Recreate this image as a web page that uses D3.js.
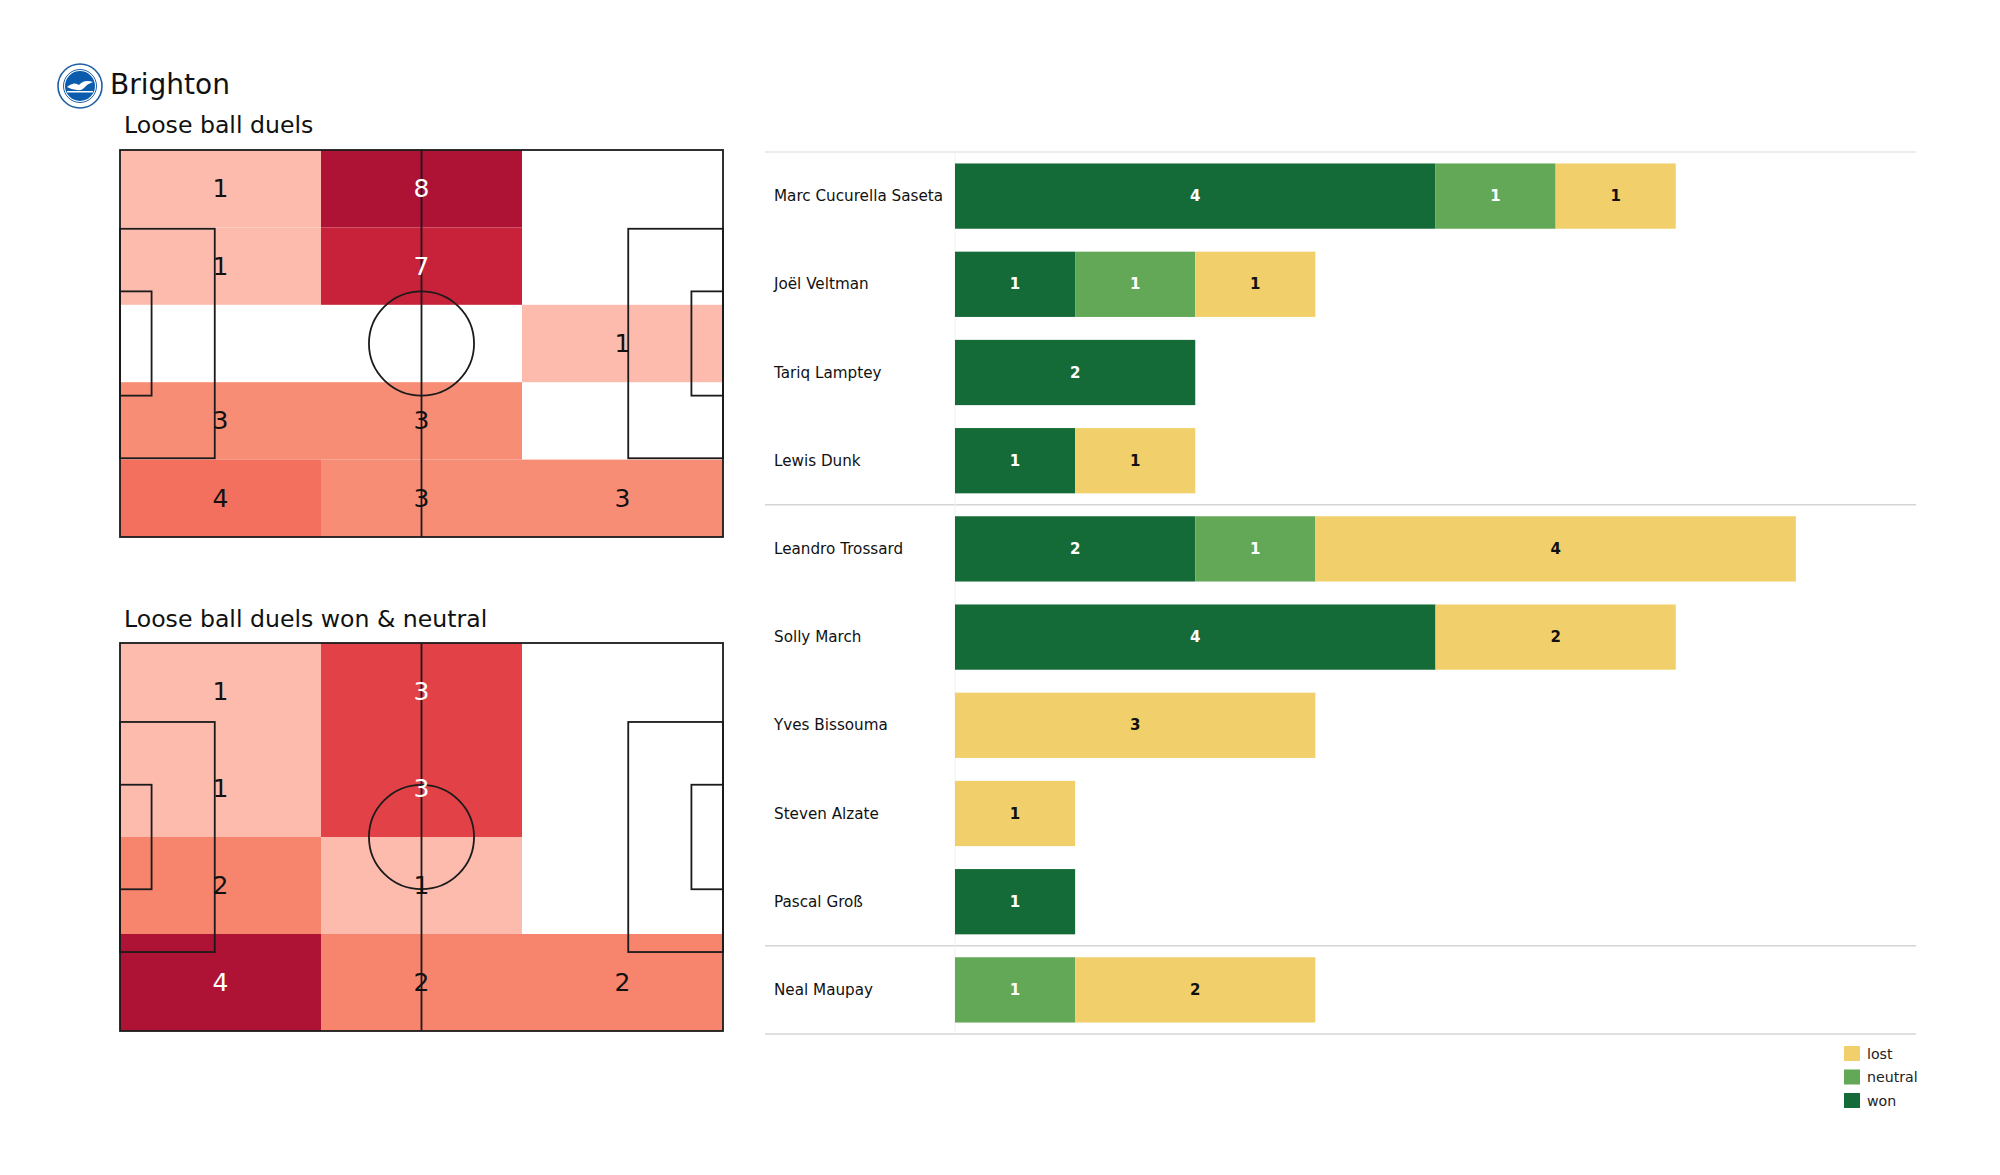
<!DOCTYPE html>
<html>
<head>
<meta charset="utf-8">
<script src="https://cdn.jsdelivr.net/npm/d3@7"></script>
<style>
  html, body { margin: 0; padding: 0; background: #ffffff; }
  svg { display: block; font-family: "DejaVu Sans", sans-serif; }
</style>
</head>
<body>
<svg id="chart" width="2000" height="1175"></svg>
<script>
// ---------------- DATA ----------------
const teamName = "Brighton";
const heatTitle1 = "Loose ball duels";
const heatTitle2 = "Loose ball duels won & neutral";

// heatmap counts, rows top -> bottom, columns left -> right
const duelsGrid = [
  [1, 8, 0],
  [1, 7, 0],
  [0, 0, 1],
  [3, 3, 0],
  [4, 3, 3]
];
const wonNeutralGrid = [
  [1, 3, 0],
  [1, 3, 0],
  [2, 1, 0],
  [4, 2, 2]
];

const players = ["Marc Cucurella Saseta", "Joël Veltman", "Tariq Lamptey", "Lewis Dunk",
  "Leandro Trossard", "Solly March", "Yves Bissouma", "Steven Alzate", "Pascal Groß", "Neal Maupay"];
const positionGroup = ["DF", "DF", "DF", "DF", "MF", "MF", "MF", "MF", "MF", "FW"];
const wonValues     = [4, 1, 2, 1, 2, 4, 0, 0, 1, 0];
const neutralValues = [1, 1, 0, 0, 1, 0, 0, 0, 0, 1];
const lostValues    = [1, 1, 0, 1, 4, 2, 3, 1, 0, 2];
const resultKeys = ["won", "neutral", "lost"];
const legendKeys = ["lost", "neutral", "won"];
const xMax = 8;

// ---------------- STYLE ----------------
const colors = { won: "#156b37", neutral: "#62a856", lost: "#f1d06b" };
const labelColors = { won: "#ffffff", neutral: "#ffffff", lost: "#111111" };
const heatStops = [0, 0.3, 0.45, 0.7, 0.86, 1];
const heatColors = ["#fdbbae", "#f88b73", "#f26b5a", "#e03c44", "#c8203a", "#ae1234"];
const lineColor = "#1b1b1b";

const svg = d3.select("#chart");

// ---------------- HEADER ----------------
const logo = svg.append("g").attr("transform", "translate(80,86)");
logo.append("circle").attr("r", 22).attr("fill", "#ffffff").attr("stroke", "#1f5fa6").attr("stroke-width", 1.6);
logo.append("circle").attr("r", 16.5).attr("fill", "#ffffff").attr("stroke", "#1f5fa6").attr("stroke-width", 1);
logo.append("circle").attr("r", 15).attr("fill", "#0b5cad");
logo.append("path")
  .attr("d", "M-13,1 Q-6,-5 -1,-1 Q4,-7 13,-4 Q7,-2 4,2 Q1,5 -3,4 Q-8,4 -13,1 Z")
  .attr("fill", "#ffffff");
logo.append("rect").attr("x", -13).attr("y", 5).attr("width", 26).attr("height", 1.5).attr("fill", "#ffffff");

svg.append("text").attr("x", 110).attr("y", 94)
  .attr("font-size", 28).attr("fill", "#111").text(teamName);

// ---------------- PITCH HEATMAPS ----------------
const pitchLength = 105, pitchWidth = 68;

function drawPitch(grid, top, bottom, title, titleY) {
  const xs = d3.scaleLinear().domain([0, pitchLength]).range([120, 723]);
  const ys = d3.scaleLinear().domain([0, pitchWidth]).range([top, bottom]);
  const nRows = grid.length, nCols = grid[0].length;
  const colBand = d3.scaleBand().domain(d3.range(nCols)).range([0, pitchLength]);
  const rowBand = d3.scaleBand().domain(d3.range(nRows)).range([0, pitchWidth]);

  const flat = [];
  grid.forEach((row, r) => row.forEach((v, c) => flat.push({ r, c, v })));
  const nonZero = flat.filter(d => d.v > 0).map(d => d.v);
  const vMin = d3.min(nonZero), vMax = d3.max(nonZero);
  const norm = d3.scaleLinear().domain([vMin, vMax]).range([0, 1]);
  const color = d3.scaleLinear().domain(heatStops).range(heatColors).interpolate(d3.interpolateRgb);

  svg.append("text").attr("x", 124).attr("y", titleY)
    .attr("font-size", 23.6).attr("fill", "#111").text(title);

  const g = svg.append("g");
  g.selectAll("rect.cell").data(flat.filter(d => d.v > 0)).join("rect")
    .attr("class", "cell")
    .attr("x", d => xs(colBand(d.c)))
    .attr("y", d => ys(rowBand(d.r)))
    .attr("width", d => xs(colBand(d.c) + colBand.bandwidth()) - xs(colBand(d.c)))
    .attr("height", d => ys(rowBand(d.r) + rowBand.bandwidth()) - ys(rowBand(d.r)))
    .attr("fill", d => color(norm(d.v)));

  // pitch markings
  const lines = g.append("g").attr("fill", "none").attr("stroke", lineColor).attr("stroke-width", 1.8);
  lines.append("rect").attr("x", xs(0)).attr("y", ys(0))
    .attr("width", xs(pitchLength) - xs(0)).attr("height", ys(pitchWidth) - ys(0));
  lines.append("line").attr("x1", xs(pitchLength / 2)).attr("x2", xs(pitchLength / 2))
    .attr("y1", ys(0)).attr("y2", ys(pitchWidth));
  lines.append("ellipse").attr("cx", xs(pitchLength / 2)).attr("cy", ys(pitchWidth / 2))
    .attr("rx", xs(9.15) - xs(0)).attr("ry", ys(9.15) - ys(0));
  const boxes = [
    { x0: 0, x1: 16.5, w: 40.32 }, { x0: pitchLength - 16.5, x1: pitchLength, w: 40.32 },
    { x0: 0, x1: 5.5, w: 18.32 }, { x0: pitchLength - 5.5, x1: pitchLength, w: 18.32 }
  ];
  boxes.forEach(b => {
    lines.append("rect").attr("x", xs(b.x0)).attr("y", ys((pitchWidth - b.w) / 2))
      .attr("width", xs(b.x1) - xs(b.x0)).attr("height", ys(b.w) - ys(0));
  });

  g.selectAll("text.val").data(flat.filter(d => d.v > 0)).join("text")
    .attr("class", "val")
    .attr("x", d => xs(colBand(d.c) + colBand.bandwidth() / 2))
    .attr("y", d => ys(rowBand(d.r) + rowBand.bandwidth() / 2))
    .attr("text-anchor", "middle").attr("dominant-baseline", "central")
    .attr("font-size", 25)
    .attr("fill", d => norm(d.v) > 0.6 ? "#ffffff" : "#111111")
    .text(d => d.v);
}

drawPitch(duelsGrid, 150, 537, heatTitle1, 133);
drawPitch(wonNeutralGrid, 643, 1031, heatTitle2, 627);

// ---------------- STACKED BAR CHART ----------------
const table = players.map((p, i) => ({
  player: p, group: positionGroup[i],
  won: wonValues[i], neutral: neutralValues[i], lost: lostValues[i]
}));
const x = d3.scaleLinear().domain([0, xMax]).range([955, 1916]);
const y = d3.scaleBand().domain(players).range([152, 1034]).paddingInner(0.26).paddingOuter(0.13);
const step = y.step();
const series = d3.stack().keys(resultKeys)(table);

const bars = svg.append("g");
// separators
const sepIdx = [0];
table.forEach((d, i) => { if (i > 0 && d.group !== table[i - 1].group) sepIdx.push(i); });
sepIdx.push(table.length);
bars.selectAll("line.sep").data(sepIdx).join("line")
  .attr("class", "sep")
  .attr("x1", 765).attr("x2", 1916)
  .attr("y1", i => y.range()[0] + i * step).attr("y2", i => y.range()[0] + i * step)
  .attr("stroke", i => i === 0 ? "#e6e6e6" : "#d4d4d4").attr("stroke-width", 1.5);
// left axis line
bars.append("line").attr("x1", x(0)).attr("x2", x(0))
  .attr("y1", y.range()[0]).attr("y2", y.range()[1])
  .attr("stroke", "#f0f0f0").attr("stroke-width", 1);

series.forEach(s => {
  const key = s.key;
  const gs = bars.append("g");
  gs.selectAll("rect").data(s.filter(d => d[1] - d[0] > 0)).join("rect")
    .attr("x", d => x(d[0]))
    .attr("y", d => y(d.data.player))
    .attr("width", d => x(d[1]) - x(d[0]))
    .attr("height", y.bandwidth())
    .attr("fill", colors[key]);
  gs.selectAll("text").data(s.filter(d => d[1] - d[0] > 0)).join("text")
    .attr("x", d => (x(d[0]) + x(d[1])) / 2)
    .attr("y", d => y(d.data.player) + y.bandwidth() / 2)
    .attr("text-anchor", "middle").attr("dominant-baseline", "central")
    .attr("font-size", 15).attr("font-weight", "bold")
    .attr("fill", labelColors[key])
    .text(d => d[1] - d[0]);
});

bars.selectAll("text.name").data(players).join("text")
  .attr("class", "name")
  .attr("x", 774)
  .attr("y", p => y(p) + y.bandwidth() / 2)
  .attr("dominant-baseline", "central")
  .attr("font-size", 15.2).attr("fill", "#111")
  .text(p => p);

// legend
const legend = svg.append("g");
legend.selectAll("rect").data(legendKeys).join("rect")
  .attr("x", 1844).attr("y", (d, i) => 1046 + i * 23.5)
  .attr("width", 16).attr("height", 15)
  .attr("fill", d => colors[d]);
legend.selectAll("text").data(legendKeys).join("text")
  .attr("x", 1867).attr("y", (d, i) => 1046 + i * 23.5 + 7.5)
  .attr("dominant-baseline", "central")
  .attr("font-size", 14.2).attr("fill", "#222")
  .text(d => d);
</script>
</body>
</html>
